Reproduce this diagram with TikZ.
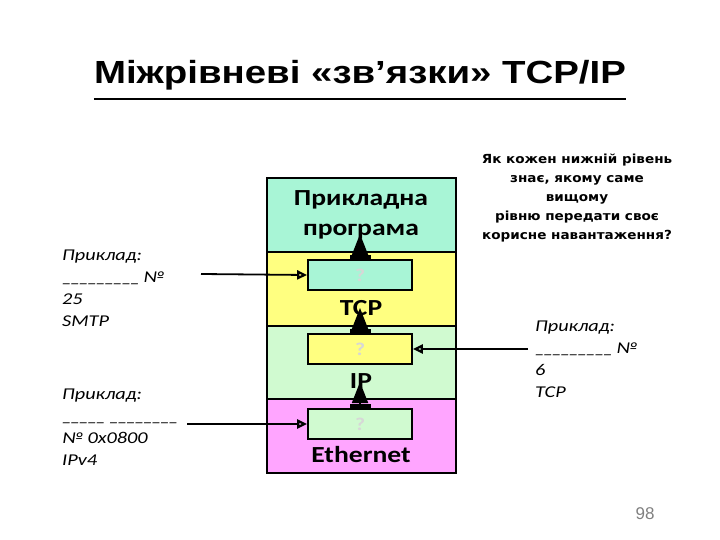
\documentclass[tikz,border=0pt]{standalone}
\usepackage{fontspec}
\setmainfont[FakeStretch=1.2]{Carlito}
\newfontfamily\exfont[FakeStretch=1.23]{Carlito}
\newfontfamily\titlef[FakeStretch=1.2]{Liberation Sans}
\newfontfamily\arialf{Liberation Sans}
\newfontfamily\verdf[FakeStretch=1.085]{DejaVu Sans}
\usetikzlibrary{arrows.meta}
\definecolor{appc}{RGB}{168,245,214}
\definecolor{tcpc}{RGB}{255,255,128}
\definecolor{ipc}{RGB}{208,250,208}
\definecolor{ethc}{RGB}{255,165,255}
\definecolor{qc}{RGB}{215,215,215}
\newcommand{\us}{\_\kern-1.6pt}
\begin{document}
\begin{tikzpicture}[x=1pt,y=-1pt,
  layer/.style={draw=black,line width=1.8pt,minimum width=189pt,minimum height=74pt,anchor=north west,inner sep=0pt},
  smallbox/.style={draw=black,line width=1.8pt,minimum width=104pt,minimum height=30pt,inner sep=0pt,text=qc,font=\fontsize{18}{20}\selectfont\bfseries},
  layertext/.style={font=\fontsize{23}{30}\selectfont\bfseries,align=center,inner sep=0pt},
  example/.style={font=\exfont\fontsize{16.5}{22}\selectfont\itshape,align=left,anchor=north west,inner sep=0pt},
  feed/.style={line width=1.8pt,-{Triangle[open,length=10pt,width=9pt,line width=2.2pt]}},
  uparrow/.style={line width=1.8pt,{Rectangle[width=21pt,length=4.5pt]}-{Triangle[width=16pt,length=21pt]}}
]
\useasboundingbox (0,0) rectangle (720,540);
\fill[white] (0,0) rectangle (720,540);
% title
\node[font=\titlef\fontsize{32}{36}\selectfont\bfseries,inner sep=0pt,anchor=base] (title) at (360,84) {Міжрівневі «зв’язки» TCP/IP};
\draw[line width=2.6pt] ([yshift=-15pt]title.base west) -- ([yshift=-15pt]title.base east);
% layers
\node[layer,fill=appc] (app) at (266,177) {};
\node[layer,fill=tcpc] (tcp) at (266,251) {};
\node[layer,fill=ipc] (ip) at (266,325) {};
\node[layer,fill=ethc] (eth) at (266,398) {};
\node[layertext] (apptext) at (361,215) {Прикладна\\програма};
% small boxes
\node[smallbox,fill=appc] (tcpbox) at (360,275) {?};
\node[smallbox,fill=tcpc] (ipbox) at (360,349) {?};
\node[smallbox,fill=ipc] (ethbox) at (360,424) {?};
\node[layertext] (tcptext) at (361,308) {TCP};
\node[layertext] (iptext) at (361,381) {IP};
\node[layertext] (ethtext) at (361,455) {Ethernet};
% up arrows
\coordinate (tcpup) at (360,234);
\coordinate (ipup) at (360,308);
\coordinate (ethup) at (360,382);
\draw[uparrow] (tcpbox.north) -- (tcpup);
\draw[uparrow] (ipbox.north) -- (ipup);
\draw[uparrow] (ethbox.north) -- (ethup);
% question
\node[font=\verdf\fontsize{12.5}{19}\selectfont\bfseries,align=center,inner sep=0pt] (question) at (577,198) {Як кожен нижній рівень\\знає, якому саме\\вищому\\рівню передати своє\\корисне навантаження?};
% examples
\node[example] (ex1) at (62,250) {Приклад:\\\us\us\us\us\us\us\us\us\us\ №\\25\\SMTP};
\node[example] (ex2) at (62,389) {Приклад:\\\us\us\us\us\us\ \us\us\us\us\us\us\us\us\\№ 0x0800\\IPv4};
\node[example] (ex3) at (535,321) {Приклад:\\\us\us\us\us\us\us\us\us\us\ №\\6\\TCP};
\coordinate (f1) at (201,274);
\coordinate (f2) at (187,424);
\coordinate (f3) at (528,349);
\draw[feed] (f1) -- (tcpbox.west);
\draw[feed] (f2) -- (ethbox.west);
\draw[feed] (f3) -- (ipbox.east);
% page number
\node[font=\arialf\fontsize{17}{19}\selectfont,text=gray,inner sep=0pt] (page) at (645,514) {98};
\end{tikzpicture}
\end{document}
